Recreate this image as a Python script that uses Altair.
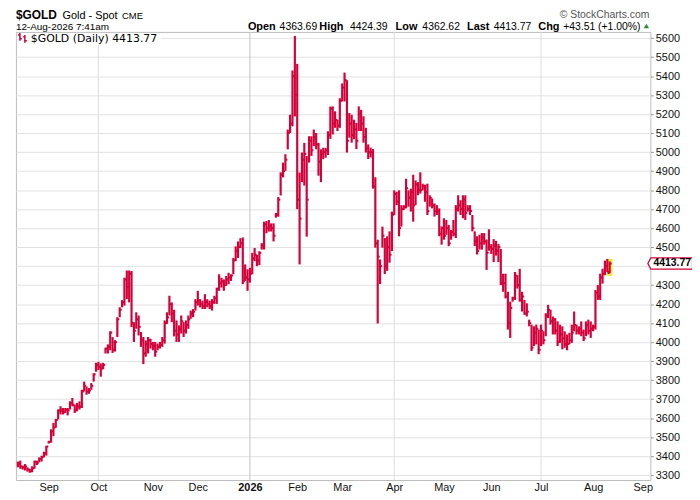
import altair as alt
import pandas as pd

# ---------------- data ----------------
holidays = ["2025-09-01", "2025-11-27", "2025-12-25", "2026-01-01", "2026-01-19",
            "2026-02-16", "2026-04-03", "2026-05-25", "2026-06-19", "2026-07-03"]

lows = [
    3341, 3333, 3329, 3324, 3318, 3312, 3315, 3333, 3353, 3367,
    3371, 3393, 3402, 3466, 3471, 3505, 3549, 3593, 3619, 3619,
    3627, 3614, 3645, 3662, 3627, 3636, 3645, 3653, 3740, 3723,
    3728, 3749, 3792, 3844, 3853, 3818, 3857, 3940, 3940, 3957,
    3943, 3950, 4027, 4131, 4183, 4192, 4226, 4209, 4079, 4001,
    4070, 4035, 3975, 3884, 3923, 3940, 3966, 3957, 3923, 3957,
    3966, 3975, 3992, 4096, 4140, 4105, 4030, 4001, 4001, 4045,
    4027, 4045, 4070, 4123, 4131, 4166, 4192, 4183, 4174, 4174,
    4183, 4174, 4166, 4201, 4201, 4270, 4287, 4270, 4296, 4305,
    4322, 4357, 4426, 4443, 4495, 4305, 4322, 4270, 4313, 4357,
    4426, 4400, 4405, 4487, 4487, 4573, 4582, 4582, 4530, 4655,
    4660, 4772, 4867, 4902, 5015, 5101, 5136, 5188, 4700, 4409,
    4842, 4824, 4555, 4945, 4980, 5032, 5015, 4876, 4842, 4963,
    4971, 4985, 5070, 5093, 5128, 5111, 5128, 5267, 5267, 4998,
    5076, 5050, 5068, 5016, 5111, 5111, 5050, 4998, 4964, 4972,
    4808, 4497, 4098, 4306, 4497, 4358, 4375, 4418, 4479, 4669,
    4721, 4557, 4608, 4695, 4704, 4713, 4687, 4634, 4721, 4773,
    4782, 4799, 4739, 4669, 4713, 4704, 4661, 4669, 4557, 4513,
    4539, 4565, 4505, 4539, 4557, 4548, 4687, 4669, 4652, 4643,
    4687, 4669, 4583, 4505, 4461, 4487, 4487, 4513, 4380, 4481,
    4464, 4421, 4455, 4421, 4300, 4265, 4230, 4066, 4022, 4213,
    4222, 4282, 4213, 4161, 4144, 4135, 4083, 3953, 3979, 3988,
    3936, 3979, 3988, 4031, 4126, 4092, 4040, 4040, 3979, 3996,
    3962, 3970, 3957, 3988, 3996, 4057, 4040, 4040, 4031, 4005,
    4031, 4040, 4022, 4057, 4066, 4222, 4222, 4308, 4352, 4369,
    4362.62,
]

highs = [
    3371, 3376, 3350, 3358, 3341, 3333, 3346, 3376, 3376, 3393,
    3402, 3423, 3454, 3480, 3541, 3575, 3596, 3645, 3662, 3653,
    3653, 3653, 3688, 3706, 3671, 3680, 3688, 3749, 3792, 3766,
    3758, 3784, 3836, 3891, 3896, 3888, 3891, 3971, 3988, 4057,
    4026, 4010, 4131, 4183, 4221, 4339, 4377, 4377, 4374, 4105,
    4157, 4140, 4053, 4027, 4009, 4027, 4018, 4001, 4001, 3992,
    4001, 4027, 4114, 4157, 4244, 4209, 4170, 4114, 4088, 4140,
    4105, 4114, 4140, 4166, 4174, 4226, 4270, 4226, 4218, 4252,
    4226, 4218, 4226, 4244, 4287, 4357, 4339, 4330, 4348, 4365,
    4357, 4443, 4504, 4530, 4547, 4551, 4409, 4383, 4391, 4470,
    4495, 4460, 4478, 4521, 4634, 4637, 4643, 4625, 4625, 4680,
    4764, 4894, 4945, 4989, 5119, 5197, 5430, 5612, 5465, 4893,
    4998, 5049, 4980, 5084, 5084, 5119, 5101, 5049, 5015, 5023,
    5023, 5110, 5240, 5241, 5215, 5171, 5284, 5362, 5419, 5379,
    5206, 5197, 5171, 5154, 5241, 5223, 5189, 5128, 5041, 5024,
    5016, 4868, 4539, 4435, 4608, 4548, 4557, 4583, 4687, 4799,
    4791, 4799, 4721, 4721, 4860, 4799, 4808, 4881, 4851, 4842,
    4894, 4834, 4829, 4834, 4773, 4756, 4730, 4721, 4704, 4609,
    4652, 4643, 4617, 4591, 4643, 4721, 4773, 4747, 4773, 4773,
    4721, 4721, 4669, 4583, 4557, 4565, 4574, 4574, 4540, 4594,
    4516, 4542, 4533, 4516, 4490, 4360, 4360, 4265, 4213, 4239,
    4369, 4352, 4386, 4265, 4222, 4204, 4118, 4092, 4083, 4092,
    4066, 4092, 4057, 4152, 4196, 4170, 4135, 4126, 4109, 4092,
    4083, 4057, 4040, 4049, 4092, 4161, 4092, 4083, 4109, 4066,
    4109, 4118, 4109, 4092, 4274, 4300, 4360, 4386, 4429, 4438,
    4424.39,
]

closes = [
    3360, 3345, 3340, 3345, 3330, 3320, 3335, 3370, 3365, 3385,
    3395, 3415, 3450, 3475, 3530, 3550, 3590, 3640, 3640, 3630,
    3645, 3640, 3680, 3670, 3640, 3660, 3660, 3740, 3770, 3740,
    3745, 3770, 3830, 3880, 3870, 3860, 3880, 3965, 3975, 4050,
    3960, 4000, 4120, 4170, 4210, 4330, 4290, 4360, 4100, 4060,
    4120, 4080, 4010, 3940, 3990, 4010, 3990, 3980, 3950, 3975,
    3985, 4010, 4100, 4130, 4200, 4150, 4060, 4040, 4070, 4110,
    4060, 4090, 4120, 4150, 4160, 4210, 4220, 4200, 4190, 4210,
    4200, 4190, 4210, 4230, 4280, 4310, 4320, 4300, 4330, 4340,
    4350, 4430, 4480, 4500, 4520, 4320, 4340, 4330, 4360, 4440,
    4460, 4430, 4470, 4510, 4620, 4600, 4610, 4600, 4560, 4670,
    4750, 4880, 4900, 4960, 5100, 5150, 5400, 5300, 4750, 4650,
    4960, 4990, 4750, 5060, 5010, 5080, 5040, 4950, 4990, 5000,
    5010, 5090, 5230, 5150, 5170, 5140, 5270, 5340, 5380, 5060,
    5150, 5090, 5120, 5060, 5200, 5150, 5080, 5020, 5000, 5000,
    4820, 4520, 4450, 4400, 4560, 4400, 4500, 4460, 4670, 4780,
    4740, 4600, 4700, 4710, 4810, 4760, 4790, 4720, 4830, 4800,
    4800, 4820, 4790, 4690, 4760, 4720, 4690, 4690, 4570, 4600,
    4560, 4600, 4520, 4580, 4570, 4700, 4720, 4700, 4750, 4680,
    4700, 4690, 4600, 4530, 4480, 4520, 4550, 4530, 4470, 4500,
    4490, 4510, 4480, 4500, 4310, 4310, 4240, 4100, 4180, 4230,
    4350, 4300, 4220, 4240, 4150, 4160, 4100, 3970, 4050, 4070,
    3960, 4060, 4010, 4140, 4170, 4110, 4120, 4060, 4000, 4040,
    4020, 3990, 3990, 4010, 4050, 4090, 4060, 4070, 4050, 4020,
    4090, 4060, 4070, 4080, 4260, 4240, 4340, 4360, 4400, 4370,
    4413.77,
]

last_open = 4363.69
y_ticks = list(range(3300, 5700, 100))

# ---------------- build tables ----------------
all_days = pd.bdate_range("2025-08-13", "2026-09-30")
all_days = all_days[~all_days.isin(pd.to_datetime(holidays))]
trade_days = all_days[all_days <= pd.Timestamp("2026-08-12")]
n = len(trade_days)
assert n == len(lows) == len(highs) == len(closes), (n, len(lows), len(highs), len(closes))

df = pd.DataFrame({
    "i": list(range(n)),
    "date": trade_days.strftime("%Y-%m-%d"),
    "low": lows, "high": highs, "close": closes,
})
df_last = df.iloc[[-1]].copy()
df_last["open"] = last_open
last_close = closes[-1]

# month starts (first trading day of each month), through Sep 2026
tick_vals, tick_labels = [], []
for k in range(1, len(all_days)):
    if all_days[k].month != all_days[k - 1].month:
        tick_vals.append(k)
        tick_labels.append(all_days[k].strftime("%Y") if all_days[k].month == 1 else all_days[k].strftime("%b"))
label_expr = "".join(f"datum.value == {v} ? '{t}' : " for v, t in zip(tick_vals, tick_labels)) + "''"
year_idx = [v for v, t in zip(tick_vals, tick_labels) if t.isdigit()]
quarter_idx = [v for v, t in zip(tick_vals, tick_labels) if t in ("Oct", "Apr", "Jul")]
bold_test = " || ".join(f"datum.value == {v}" for v in year_idx)

# the price flag covers the axis label closest to the last price
hidden = [v for v in y_ticks if abs(v - last_close) < 60]
y_label_expr = "".join(f"datum.value == {v} ? '' : " for v in hidden) + "format(datum.value, 'd')"

RED = "#d1033a"
FONT = "Liberation Sans"
W, H = 640, 452

xscale = alt.Scale(domain=[-0.84, 267.2], nice=False, zero=False)
yscale = alt.Scale(domain=[3274, 5633], nice=False, zero=False)

xaxis = alt.Axis(values=tick_vals, labelExpr=label_expr, grid=False, title=None,
                 tickSize=0, domain=False, labelFont=FONT, labelFontSize=11,
                 labelColor="#111", labelPadding=2, labelFlush=False, labelOverlap=False,
                 labelFontWeight={"condition": {"test": bold_test, "value": "bold"}, "value": "normal"})
yaxis = alt.Axis(orient="right", values=y_ticks, grid=True, gridColor="#e2e2e2", title=None,
                 tickSize=3, tickColor="#9a9a9a", domain=False, labelFont=FONT,
                 labelFontSize=11, labelColor="#111", labelPadding=2, labelFlush=False,
                 labelExpr=y_label_expr)


def X(field):
    return alt.X(field, type="quantitative", scale=xscale, axis=xaxis)


def Y(field):
    return alt.Y(field, type="quantitative", scale=yscale, axis=yaxis)


qgrid = pd.DataFrame({"i": quarter_idx})
ygrid = pd.DataFrame({"i": year_idx})

q_lines = alt.Chart(qgrid).mark_rule(color="#dedede", strokeWidth=1).encode(x=X("i"))
y_lines = alt.Chart(ygrid).mark_rule(color="#c2c2c2", strokeWidth=1).encode(x=X("i"))

highlight = alt.Chart(df_last).mark_rule(color="#f4ea3a", strokeWidth=5.5, strokeCap="square").encode(
    x=X("i"), y=Y("low"), y2="high:Q")

bars = alt.Chart(df).mark_rule(color=RED, strokeWidth=2.2).encode(
    x=X("i"), y=Y("low"), y2="high:Q")

close_ticks = alt.Chart(df).transform_calculate(xr="datum.i + 0.85").mark_rule(
    color=RED, strokeWidth=2).encode(x=X("i"), x2="xr:Q", y=Y("close"))

open_tick = alt.Chart(df_last).transform_calculate(xl="datum.i - 0.85").mark_rule(
    color=RED, strokeWidth=2).encode(x=X("xl"), x2="i:Q", y=Y("open"))

# last-price flag on the right axis
flag_shape = "M-1,0 L-0.87,-0.25 L1,-0.25 L1,0.25 L-0.87,0.25 Z"
flag = alt.Chart(df_last).mark_point(shape=flag_shape, size=45 * 45, filled=True, fill="white",
                                     stroke=RED, strokeWidth=1.3, opacity=1).encode(
    x=alt.value(W + 20), y=Y("close"))
flag_text = alt.Chart(df_last).mark_text(font=FONT, fontSize=10.5, fontWeight="bold", color="#000",
                                         align="center", baseline="middle").encode(
    x=alt.value(W + 22), y=Y("close"), text=alt.Text("close:Q", format=".2f"))


def txt(s, x, y, size=11, weight="normal", color="#000", align="left", font=FONT):
    return alt.Chart(pd.DataFrame({"t": [s]})).mark_text(
        font=font, fontSize=size, fontWeight=weight, color=color, align=align,
        baseline="alphabetic").encode(x=alt.value(x), y=alt.value(y), text="t:N")


legend_bg = alt.Chart(pd.DataFrame({"t": [0]})).mark_rect(color="white").encode(
    x=alt.value(1), x2=alt.value(146), y=alt.value(1), y2=alt.value(13))
icon_shape = "M-0.5,-1 L-0.5,0.6 M-0.9,-0.6 L-0.5,-0.6 M-0.5,0.2 L-0.1,0.2 M0.5,-0.6 L0.5,1 M0.1,-0.2 L0.5,-0.2 M0.5,0.6 L0.9,0.6"
icon = alt.Chart(pd.DataFrame({"t": [0]})).mark_point(shape=icon_shape, size=100, stroke=RED,
                                                      strokeWidth=1.5, filled=False, opacity=1).encode(
    x=alt.value(6.5), y=alt.value(6))

texts = [
    txt("$GOLD", 0, -13, size=12, weight="bold"),
    txt("Gold - Spot", 47, -13.5, size=11),
    txt("CME", 107, -13.5, size=9.5),
    txt("12-Aug-2026 7:41am", 0, -1.5, size=10),
    txt("\u00a9 StockCharts.com", 639, -14, size=10.5, color="#555", align="right"),
    txt("Open", 234, -2, size=11, weight="bold"),
    txt("4363.69", 266, -2, size=10.5),
    txt("High", 306, -2, size=11, weight="bold"),
    txt("4424.39", 337, -2, size=10.5),
    txt("Low", 383, -2, size=11, weight="bold"),
    txt("4362.62", 410, -2, size=10.5),
    txt("Last", 455, -2, size=11, weight="bold"),
    txt("4413.77", 482, -2, size=10.5),
    txt("Chg", 527, -2, size=11, weight="bold"),
    txt("+43.51 (+1.00%)", 552, -2, size=10.5),
    txt("$GOLD (Daily) 4413.77", 15, 10.5, size=11, font="DejaVu Sans"),
]
tri = alt.Chart(pd.DataFrame({"t": [0]})).mark_point(shape="triangle-up", size=28, filled=True,
                                                     color="#2e8b2e", opacity=1).encode(
    x=alt.value(636), y=alt.value(-6))

chart = alt.layer(
    q_lines, y_lines, highlight, bars, close_ticks, open_tick, flag, flag_text,
    legend_bg, icon, tri, *texts
).properties(
    width=W, height=H,
    autosize=alt.AutoSizeParams(type="none"),
    padding={"left": 8, "top": 22, "right": 42, "bottom": 12},
).configure_view(stroke="#bcbcbc", strokeWidth=1)

chart.save("out.html", embed_options={"renderer": "svg", "actions": False})
